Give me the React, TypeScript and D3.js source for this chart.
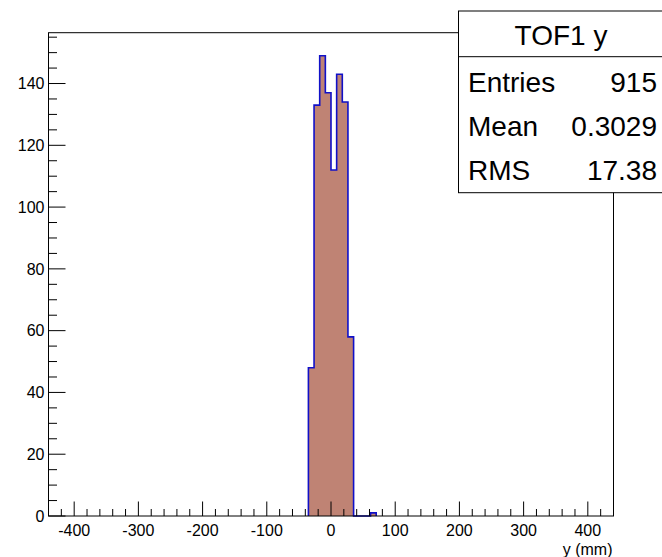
import React from 'react';
import * as d3 from 'd3';

const width = 662;
const height = 557;

// histogram: 100 bins from -440 to 440 (only non-empty bins listed)
const xMin = -440;
const xMax = 440;
const binWidth = 8.8;
const binStarts = [-35.2, -26.4, -17.6, -8.8, 0, 8.8, 17.6, 26.4, 61.6];
const counts = [48, 133, 149, 137, 112, 143, 134, 58, 1];

const xMajor = [-400, -300, -200, -100, 0, 100, 200, 300, 400];
const yMajor = [0, 20, 40, 60, 80, 100, 120, 140];

const statLabels = ['Entries', 'Mean', 'RMS'];
const statValues = ['915', '0.3029', '17.38'];

const frame = {left: 48.5, right: 613.5, top: 32.7, bottom: 516};
const font = '"Liberation Sans", Arial, sans-serif';

export default function App() {
  const x = d3.scaleLinear().domain([xMin, xMax]).range([frame.left, frame.right]);
  const yMaxVal = d3.max(counts)! * 1.05;
  const y = d3.scaleLinear().domain([0, yMaxVal]).range([frame.bottom, frame.top]);

  // step outline of the histogram
  const pts: [number, number][] = [];
  binStarts.forEach((b, i) => {
    const prevEnd = i > 0 ? binStarts[i - 1] + binWidth : null;
    if (prevEnd === null || Math.abs(prevEnd - b) > 1e-6) {
      if (prevEnd !== null) pts.push([x(prevEnd), y(0)]);
      pts.push([x(b), y(0)]);
    }
    pts.push([x(b), y(counts[i])]);
    pts.push([x(b + binWidth), y(counts[i])]);
  });
  const last = binStarts[binStarts.length - 1] + binWidth;
  pts.push([x(last), y(0)]);

  const line = d3.line();
  const xMinor = d3.range(-440, 441, 20).filter(v => v % 100 !== 0);
  const yMinor = d3.range(0, yMaxVal, 5).filter(v => v % 20 !== 0);

  return (
    <svg width={width} height={height}
         style={{position: 'absolute', left: 0, top: 0, background: '#fff'}}
         fontFamily={font}>
      <rect width={width} height={height} fill="#fff"/>
      <path d={line(pts)! + 'Z'} fill="#bf8374" stroke="none"/>
      <path d={line(pts)!} fill="none" stroke="#1010c8" strokeWidth={1.6}/>

      {/* frame */}
      <rect x={frame.left} y={frame.top} width={frame.right - frame.left}
            height={frame.bottom - frame.top} fill="none" stroke="#000" strokeWidth={1}/>

      {/* x axis ticks */}
      {xMajor.map(v => (
        <g key={v}>
          <line x1={x(v)} x2={x(v)} y1={frame.bottom} y2={frame.bottom - 14.5} stroke="#000"/>
          <text x={x(v)} y={536} fontSize={16} textAnchor="middle">{v}</text>
        </g>
      ))}
      {xMinor.map(v => (
        <line key={v} x1={x(v)} x2={x(v)} y1={frame.bottom} y2={frame.bottom - 7} stroke="#000"/>
      ))}
      <text x={frame.right - 1} y={555} fontSize={16} textAnchor="end">y (mm)</text>

      {/* y axis ticks */}
      {yMajor.map(v => (
        <g key={v}>
          <line x1={frame.left} x2={frame.left + 17} y1={y(v)} y2={y(v)} stroke="#000"/>
          <text x={44.5} y={y(v) + 5.8} fontSize={16} textAnchor="end">{v}</text>
        </g>
      ))}
      {yMinor.map(v => (
        <line key={v} x1={frame.left} x2={frame.left + 8.5} y1={y(v)} y2={y(v)} stroke="#000"/>
      ))}

      {/* stats box */}
      <rect x={458.5} y={11} width={220} height={181.7} fill="#fff" stroke="#000"/>
      <line x1={458.5} x2={662} y1={56.7} y2={56.7} stroke="#000"/>
      <text x={561} y={45} fontSize={28} textAnchor="middle">TOF1 y</text>
      {statLabels.map((l, i) => (
        <g key={l}>
          <text x={468} y={91.7 + i * 44.2} fontSize={28}>{l}</text>
          <text x={657} y={91.7 + i * 44.2} fontSize={28} textAnchor="end">{statValues[i]}</text>
        </g>
      ))}
    </svg>
  );
}
